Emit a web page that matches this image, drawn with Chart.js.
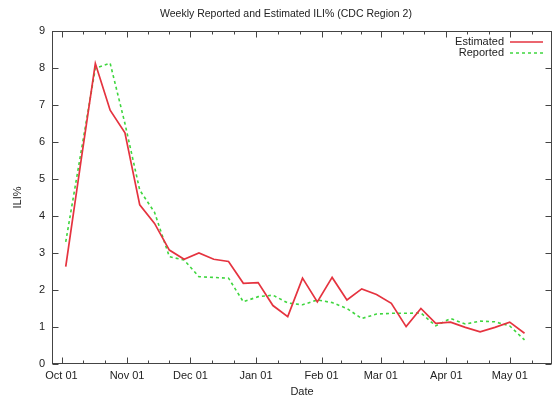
<!DOCTYPE html>
<html>
<head>
<meta charset="utf-8">
<script src="https://cdn.jsdelivr.net/npm/chart.js@4/dist/chart.umd.min.js"></script>
<style>
  html, body { margin: 0; padding: 0; background: #fff; }
  #wrap { width: 555px; height: 397px; }
</style>
</head>
<body>
<div id="wrap"><canvas id="c"></canvas></div>
<script>
// week ending dates (2009-2010 season)
var weeks = [
    "2009-10-03", "2009-10-10", "2009-10-17", "2009-10-24", "2009-10-31",
    "2009-11-07", "2009-11-14", "2009-11-21", "2009-11-28",
    "2009-12-05", "2009-12-12", "2009-12-19", "2009-12-26",
    "2010-01-02", "2010-01-09", "2010-01-16", "2010-01-23", "2010-01-30",
    "2010-02-06", "2010-02-13", "2010-02-20", "2010-02-27",
    "2010-03-06", "2010-03-13", "2010-03-20", "2010-03-27",
    "2010-04-03", "2010-04-10", "2010-04-17", "2010-04-24",
    "2010-05-01", "2010-05-08"
];
var estimated = [2.63, 5.4, 8.12, 6.86, 6.25, 4.3, 3.8, 3.08, 2.83, 3.0,
    2.83, 2.77, 2.18, 2.2, 1.58, 1.28, 2.32, 1.68, 2.34, 1.73,
    2.03, 1.88, 1.64, 1.01, 1.5, 1.1, 1.13, 0.99, 0.87, 0.99,
    1.13, 0.83];
var reported = [3.3, 5.65, 7.99, 8.13, 6.5, 4.7, 4.1, 2.9, 2.81, 2.36,
    2.34, 2.32, 1.68, 1.82, 1.86, 1.65, 1.6, 1.73, 1.66, 1.5,
    1.23, 1.35, 1.37, 1.37, 1.38, 1.03, 1.23, 1.08, 1.16, 1.14,
    1.03, 0.65];
var monthStarts = ["2009-10-01", "2009-11-01", "2009-12-01", "2010-01-01",
    "2010-02-01", "2010-03-01", "2010-04-01", "2010-05-01", "2010-06-01"];
var monthLabels = ["Oct 01", "Nov 01", "Dec 01", "Jan 01", "Feb 01",
    "Mar 01", "Apr 01", "May 01", "Jun 01"];
var yTicks = [0, 1, 2, 3, 4, 5, 6, 7, 8, 9];

var RED = "#e5333f";
var GREEN = "#3fd63f";
var FONT = "'Liberation Sans', Arial, sans-serif";

function dayOf(s) {
    var p = s.split("-");
    return (Date.UTC(+p[0], +p[1] - 1, +p[2]) - Date.UTC(2009, 9, 1)) / 86400000;
}

function points(vals) {
    var out = [];
    for (var i = 0; i < vals.length; i++) out.push({ x: dayOf(weeks[i]), y: vals[i] });
    return out;
}

var majorDays = monthStarts.map(dayOf);
var minorDays = [];
for (var i = 0; i < majorDays.length - 1; i++) {
    var d = (majorDays[i + 1] - majorDays[i]) / 3;
    minorDays.push(majorDays[i] + d, majorDays[i] + 2 * d);
}

// frame, inward tics, title and in-plot key, gnuplot style
var gnuFrame = {
    id: "gnuFrame",
    afterDraw: function(chart) {
        var ctx = chart.ctx, a = chart.chartArea;
        var xs = chart.scales.x, ys = chart.scales.y;
        var L = Math.round(a.left) + 0.5, R = Math.round(a.right) - 0.5;
        var T = Math.round(a.top) + 0.5, B = Math.round(a.bottom) - 0.5;
        ctx.save();
        ctx.strokeStyle = "#444";
        ctx.lineWidth = 1;
        ctx.strokeRect(L, T, R - L, B - T);
        ctx.beginPath();
        majorDays.forEach(function(d) {
            if (d < xs.min || d > xs.max) return;
            var px = Math.round(xs.getPixelForValue(d)) + 0.5;
            ctx.moveTo(px, B); ctx.lineTo(px, B - 6);
            ctx.moveTo(px, T); ctx.lineTo(px, T + 6);
        });
        minorDays.forEach(function(d) {
            if (d < xs.min || d > xs.max) return;
            var px = Math.round(xs.getPixelForValue(d)) + 0.5;
            ctx.moveTo(px, B); ctx.lineTo(px, B - 3);
            ctx.moveTo(px, T); ctx.lineTo(px, T + 3);
        });
        yTicks.forEach(function(v) {
            var py = Math.round(ys.getPixelForValue(v)) + 0.5;
            ctx.moveTo(L, py); ctx.lineTo(L + 6, py);
            ctx.moveTo(R, py); ctx.lineTo(R - 6, py);
        });
        ctx.stroke();

        ctx.fillStyle = "#222";
        ctx.font = "10.5px " + FONT;
        ctx.textBaseline = "middle";
        ctx.textAlign = "center";
        ctx.fillText("Weekly Reported and Estimated ILI% (CDC Region 2)", 286, 14);

        ctx.font = "11px " + FONT;
        var keys = [
            { label: chart.data.datasets[0].label, color: RED, dash: [], y: 42 },
            { label: chart.data.datasets[1].label, color: GREEN, dash: [3, 3], y: 52.5 }
        ];
        keys.forEach(function(k) {
            ctx.fillStyle = "#222";
            ctx.textAlign = "right";
            ctx.fillText(k.label, 504, k.y);
            ctx.strokeStyle = k.color;
            ctx.lineWidth = 1.5;
            ctx.setLineDash(k.dash);
            ctx.beginPath();
            ctx.moveTo(510, Math.round(k.y));
            ctx.lineTo(543, Math.round(k.y));
            ctx.stroke();
        });
        ctx.restore();
    }
};

new Chart(document.getElementById("c"), {
    type: "line",
    data: {
        datasets: [
            { label: "Estimated", data: points(estimated), borderColor: RED,
              borderWidth: 1.7, pointRadius: 0, tension: 0, fill: false },
            { label: "Reported", data: points(reported), borderColor: GREEN,
              borderWidth: 1.6, borderDash: [3, 3], pointRadius: 0, tension: 0, fill: false }
        ]
    },
    options: {
        responsive: true,
        maintainAspectRatio: false,
        animation: false,
        layout: { padding: { top: 31, right: 3, left: 0, bottom: 0 } },
        plugins: {
            legend: { display: false },
            title: { display: false },
            tooltip: { enabled: false }
        },
        scales: {
            x: {
                type: "linear",
                min: -4.5,
                max: 232,
                afterFit: function(s) { s.height = 33; },
                afterBuildTicks: function(s) {
                    s.ticks = majorDays.filter(function(d) { return d >= s.min && d <= s.max; })
                        .map(function(d) { return { value: d }; });
                },
                ticks: {
                    autoSkip: false,
                    maxRotation: 0,
                    padding: 5,
                    color: "#222",
                    font: { family: FONT, size: 11 },
                    callback: function(v) { return monthLabels[majorDays.indexOf(v)]; }
                },
                grid: { display: false, drawTicks: false },
                border: { display: false },
                title: {
                    display: true, text: "Date", color: "#222",
                    font: { family: FONT, size: 11, lineHeight: 1 },
                    padding: 0
                }
            },
            y: {
                min: 0,
                max: 9,
                afterFit: function(s) { s.width = 52; },
                afterBuildTicks: function(s) {
                    s.ticks = yTicks.map(function(v) { return { value: v }; });
                },
                ticks: {
                    padding: 7,
                    color: "#222",
                    font: { family: FONT, size: 11 }
                },
                grid: { display: false, drawTicks: false },
                border: { display: false },
                title: {
                    display: true, text: "ILI%", color: "#222",
                    font: { family: FONT, size: 11, lineHeight: 1 },
                    padding: { top: 12, bottom: 0 }
                }
            }
        }
    },
    plugins: [gnuFrame]
});
</script>
</body>
</html>
